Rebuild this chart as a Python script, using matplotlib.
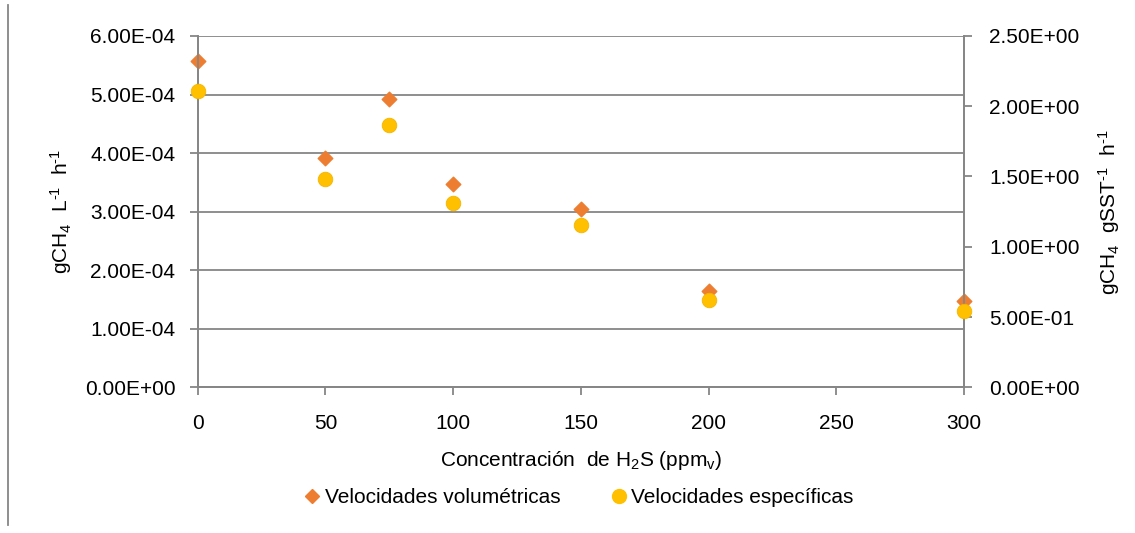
import matplotlib.pyplot as plt
from matplotlib.lines import Line2D
from matplotlib import font_manager

# concentración de H2S (ppmv)
h2s = [0, 50, 75, 100, 150, 200, 300]
# gCH4 L-1 h-1
vel_vol = [5.58e-4, 3.91e-4, 4.92e-4, 3.47e-4, 3.05e-4, 1.65e-4, 1.48e-4]
# gCH4 gSST-1 h-1
vel_esp = [2.11, 1.48, 1.87, 1.31, 1.155, 0.62, 0.54]

xticks = [0, 50, 100, 150, 200, 250, 300]
yticks_left = [0, 1e-4, 2e-4, 3e-4, 4e-4, 5e-4, 6e-4]
yticks_right = [0, 0.5, 1.0, 1.5, 2.0, 2.5]

names = {f.name for f in font_manager.fontManager.ttflist}
fam = 'Liberation Sans Narrow' if 'Liberation Sans Narrow' in names else 'Liberation Sans'
plt.rcParams['font.family'] = [fam, 'DejaVu Sans']
plt.rcParams['mathtext.fontset'] = 'custom'
plt.rcParams['mathtext.rm'] = fam
plt.rcParams['mathtext.it'] = fam
plt.rcParams['mathtext.default'] = 'regular'

grey = '#868686'
orange = '#ED7D31'
yellow = '#FFC000'
fs = 15

fig = plt.figure(figsize=(11.35, 5.33), dpi=100)
ax = fig.add_axes([0.1742, 0.2734, 0.6751, 0.6591])
ax2 = ax.twinx()

ax.scatter(h2s, vel_vol, marker='D', s=55, color=orange, zorder=3, clip_on=False)
ax2.scatter(h2s, vel_esp, marker='o', s=110, color=yellow, zorder=3, clip_on=False,
            edgecolor='#F5B400', linewidth=0.6)

ax.set_xlim(0, 300)
ax.set_ylim(0, 6e-4)
ax2.set_ylim(0, 2.5)
ax.set_xticks(xticks)
ax.set_yticks(yticks_left)
ax2.set_yticks(yticks_right)
ax.set_yticklabels([f'{v:.2E}' for v in yticks_left])
ax2.set_yticklabels([f'{v:.2E}' for v in yticks_right])

ax.yaxis.grid(True, color=grey, linewidth=1.3)
ax.set_axisbelow(True)
for a in (ax, ax2):
    for s in a.spines.values():
        s.set_color(grey)
        s.set_linewidth(1.3)
    a.spines['top'].set_visible(False)
    a.tick_params(colors=grey, labelcolor='black', labelsize=fs, length=6, width=1.3)
ax.tick_params(axis='y', pad=10)
ax2.tick_params(axis='y', pad=12)
ax.tick_params(axis='x', pad=13.5)

ax.set_xlabel('Concentración  de H$_2$S (ppm$_v$)', fontsize=fs, labelpad=11)
ax.set_ylabel(r'gCH$_4$  L$^{\text{-}1}$  h$^{\text{-}1}$', fontsize=fs, labelpad=8)
ax2.set_ylabel(r'gCH$_4$  gSST$^{\text{-}1}$  h$^{\text{-}1}$', fontsize=fs, labelpad=12)

handles = [
    Line2D([], [], marker='D', linestyle='none', color=orange, markersize=7),
    Line2D([], [], marker='o', linestyle='none', color=yellow, markersize=10),
]
fig.legend(handles, ['Velocidades volumétricas', 'Velocidades específicas'],
           loc='center', bbox_to_anchor=(0.508, 0.066), ncol=2, frameon=False,
           fontsize=fs, handletextpad=0.0, columnspacing=2.2, handlelength=1.2)

# borde izquierdo del marco
fig.add_artist(Line2D([0.007, 0.007], [0.015, 0.99], color=grey, linewidth=1.3))

fig.savefig('out.png', dpi=100, facecolor='white')
